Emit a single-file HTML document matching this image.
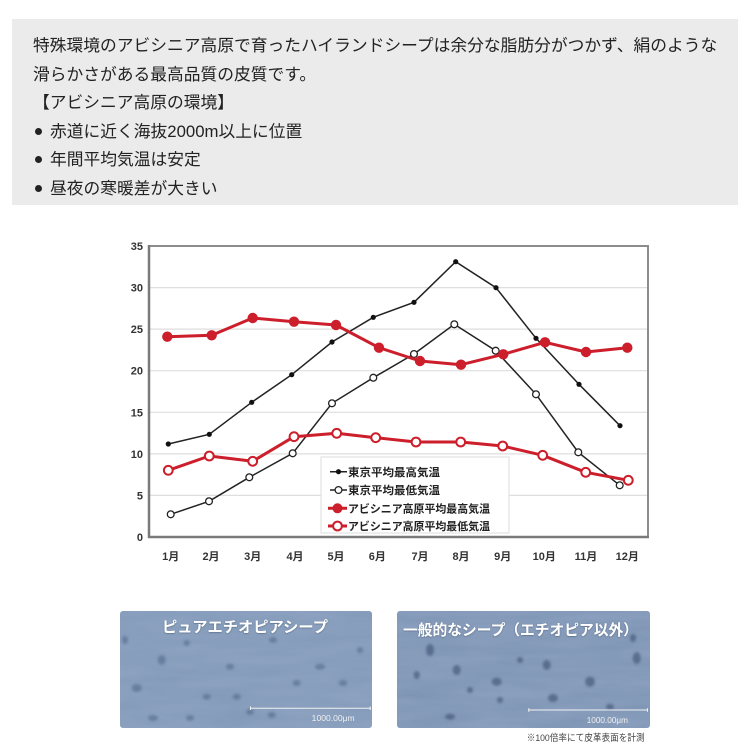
<!DOCTYPE html>
<html>
<head>
<meta charset="utf-8">
<style>
  html,body{margin:0;padding:0;background:#fff;}
  body{width:750px;height:750px;position:relative;overflow:hidden;
       font-family:"Liberation Sans","Noto Sans CJK JP",sans-serif;}
  .box{position:absolute;left:12px;top:19px;width:726px;height:186px;background:#ebebeb;}
  .txt{position:absolute;left:33px;top:32px;font-size:16.75px;line-height:28.5px;color:#222;white-space:nowrap;}
  .txt div{height:28.5px;}
  .b{display:inline-block;width:7px;height:7px;border-radius:50%;background:#222;margin:0 8px 2px 2px;vertical-align:middle;}
  svg{position:absolute;left:0;top:0;}
</style>
</head>
<body>
<div class="box"></div>
<div class="txt">
  <div>特殊環境のアビシニア高原で育ったハイランドシープは余分な脂肪分がつかず、絹のような</div>
  <div>滑らかさがある最高品質の皮質です。</div>
  <div>【アビシニア高原の環境】</div>
  <div><span class="b"></span>赤道に近く海抜2000m以上に位置</div>
  <div><span class="b"></span>年間平均気温は安定</div>
  <div><span class="b"></span>昼夜の寒暖差が大きい</div>
</div>

<svg width="750" height="750" viewBox="0 0 750 750" xmlns="http://www.w3.org/2000/svg">
  <defs>
    <filter id="tex" x="0" y="0" width="100%" height="100%">
      <feTurbulence type="fractalNoise" baseFrequency="0.015 0.09" numOctaves="3" seed="4" result="n"/>
      <feColorMatrix in="n" type="matrix" values="0 0 0 0 0.33  0 0 0 0 0.43  0 0 0 0 0.60  0 0 0 0.5 0" result="c"/>
      <feComposite in="c" in2="SourceGraphic" operator="in"/>
    </filter>
    <filter id="bl"><feGaussianBlur stdDeviation="1.3"/></filter>
    <filter id="sh"><feDropShadow dx="0" dy="0.5" stdDeviation="0.8" flood-color="#2a3a55" flood-opacity="0.6"/></filter>
    <clipPath id="c1"><rect x="120" y="611" width="252" height="117" rx="3"/></clipPath>
    <clipPath id="c2"><rect x="397" y="611" width="253" height="117" rx="3"/></clipPath>
  </defs>

  <!-- chart grid -->
  <g stroke="#dedede" stroke-width="1.2">
    <line x1="150" y1="287.6" x2="647" y2="287.6"/>
    <line x1="150" y1="329.1" x2="647" y2="329.1"/>
    <line x1="150" y1="370.7" x2="647" y2="370.7"/>
    <line x1="150" y1="412.3" x2="647" y2="412.3"/>
    <line x1="150" y1="453.9" x2="647" y2="453.9"/>
    <line x1="150" y1="495.4" x2="647" y2="495.4"/>
  </g>
  <rect x="149" y="246" width="499" height="291" fill="none" stroke="#8c8c8c" stroke-width="2"/>
  <line x1="149" y1="245" x2="149" y2="538" stroke="#7a7a7a" stroke-width="2.5"/>
  <line x1="148" y1="537" x2="649" y2="537" stroke="#7a7a7a" stroke-width="2.5"/>

  <!-- y labels -->
  <g font-family="Liberation Sans, sans-serif" font-size="11" font-weight="bold" fill="#333" text-anchor="end">
    <text x="143" y="250">35</text>
    <text x="143" y="291.6">30</text>
    <text x="143" y="333.1">25</text>
    <text x="143" y="374.7">20</text>
    <text x="143" y="416.3">15</text>
    <text x="143" y="457.9">10</text>
    <text x="143" y="499.4">5</text>
    <text x="143" y="541">0</text>
  </g>
  <!-- x labels -->
  <g font-family="Liberation Sans, Noto Sans CJK JP, sans-serif" font-size="11" font-weight="bold" fill="#333" text-anchor="middle">
    <text x="170.7" y="560">1月</text>
    <text x="211" y="560">2月</text>
    <text x="252.7" y="560">3月</text>
    <text x="295" y="560">4月</text>
    <text x="336" y="560">5月</text>
    <text x="377.3" y="560">6月</text>
    <text x="420" y="560">7月</text>
    <text x="461" y="560">8月</text>
    <text x="502.7" y="560">9月</text>
    <text x="544.3" y="560">10月</text>
    <text x="586" y="560">11月</text>
    <text x="627.3" y="560">12月</text>
  </g>

  <!-- Tokyo max -->
  <polyline fill="none" stroke="#222" stroke-width="1.5" points="168.3,444 209.3,434.3 251.7,402.3 291.7,374.7 332,342 373.3,317.3 414,302.3 455.7,261.7 496,287.7 536,338.3 579,384.3 620,425.7"/>
  <g fill="#111">
    <circle cx="168.3" cy="444" r="2.6"/><circle cx="209.3" cy="434.3" r="2.6"/><circle cx="251.7" cy="402.3" r="2.6"/>
    <circle cx="291.7" cy="374.7" r="2.6"/><circle cx="332" cy="342" r="2.6"/><circle cx="373.3" cy="317.3" r="2.6"/>
    <circle cx="414" cy="302.3" r="2.6"/><circle cx="455.7" cy="261.7" r="2.6"/><circle cx="496" cy="287.7" r="2.6"/>
    <circle cx="536" cy="338.3" r="2.6"/><circle cx="579" cy="384.3" r="2.6"/><circle cx="620" cy="425.7" r="2.6"/>
  </g>
  <!-- Tokyo min -->
  <polyline fill="none" stroke="#222" stroke-width="1.5" points="170.7,514.3 209,501.3 249.3,477.3 292.7,453.3 332,403.3 373.3,377.7 414,354 454.3,324.3 495.7,350.7 536,394.3 578.3,452.3 619.7,485.3"/>
  <g fill="#fff" stroke="#222" stroke-width="1.3">
    <circle cx="170.7" cy="514.3" r="3.4"/><circle cx="209" cy="501.3" r="3.4"/><circle cx="249.3" cy="477.3" r="3.4"/>
    <circle cx="292.7" cy="453.3" r="3.4"/><circle cx="332" cy="403.3" r="3.4"/><circle cx="373.3" cy="377.7" r="3.4"/>
    <circle cx="414" cy="354" r="3.4"/><circle cx="454.3" cy="324.3" r="3.4"/><circle cx="495.7" cy="350.7" r="3.4"/>
    <circle cx="536" cy="394.3" r="3.4"/><circle cx="578.3" cy="452.3" r="3.4"/><circle cx="619.7" cy="485.3" r="3.4"/>
  </g>

  <!-- Abyssinia max -->
  <polyline fill="none" stroke="#cc1e2b" stroke-width="3" stroke-linejoin="round" points="167.3,336.7 211.7,335.3 252.7,318 294,321.7 336,325 379,347.7 420,361 461,364.7 503.3,354.3 545,342.3 586,352 627.3,347.7"/>
  <g fill="#cc1e2b">
    <circle cx="167.3" cy="336.7" r="5.2"/><circle cx="211.7" cy="335.3" r="5.2"/><circle cx="252.7" cy="318" r="5.2"/>
    <circle cx="294" cy="321.7" r="5.2"/><circle cx="336" cy="325" r="5.2"/><circle cx="379" cy="347.7" r="5.2"/>
    <circle cx="420" cy="361" r="5.2"/><circle cx="461" cy="364.7" r="5.2"/><circle cx="503.3" cy="354.3" r="5.2"/>
    <circle cx="545" cy="342.3" r="5.2"/><circle cx="586" cy="352" r="5.2"/><circle cx="627.3" cy="347.7" r="5.2"/>
  </g>
  <!-- Abyssinia min -->
  <polyline fill="none" stroke="#cc1e2b" stroke-width="3" stroke-linejoin="round" points="168.3,470.3 209.3,456 252.7,461.3 294,436.7 336.7,433.3 375.7,437.7 416,442 460.7,442 502.7,446 542.7,455.3 585.7,472.3 628.3,480.3"/>
  <g fill="#fff" stroke="#cc1e2b" stroke-width="2">
    <circle cx="168.3" cy="470.3" r="4.4"/><circle cx="209.3" cy="456" r="4.4"/><circle cx="252.7" cy="461.3" r="4.4"/>
    <circle cx="294" cy="436.7" r="4.4"/><circle cx="336.7" cy="433.3" r="4.4"/><circle cx="375.7" cy="437.7" r="4.4"/>
    <circle cx="416" cy="442" r="4.4"/><circle cx="460.7" cy="442" r="4.4"/><circle cx="502.7" cy="446" r="4.4"/>
    <circle cx="542.7" cy="455.3" r="4.4"/><circle cx="585.7" cy="472.3" r="4.4"/><circle cx="628.3" cy="480.3" r="4.4"/>
  </g>

  <!-- legend -->
  <rect x="321" y="457" width="188" height="76" fill="#fff" stroke="#dcdcdc" stroke-width="1"/>
  <line x1="330" y1="471.7" x2="347" y2="471.7" stroke="#222" stroke-width="1.5"/>
  <circle cx="338.5" cy="471.7" r="2.6" fill="#111"/>
  <line x1="330" y1="490" x2="347" y2="490" stroke="#222" stroke-width="1.5"/>
  <circle cx="338.5" cy="490" r="3.4" fill="#fff" stroke="#222" stroke-width="1.3"/>
  <line x1="328" y1="508.3" x2="347" y2="508.3" stroke="#cc1e2b" stroke-width="3"/>
  <circle cx="337.5" cy="508.3" r="5" fill="#cc1e2b"/>
  <line x1="328" y1="526" x2="347" y2="526" stroke="#cc1e2b" stroke-width="3"/>
  <circle cx="337.5" cy="526" r="4.4" fill="#fff" stroke="#cc1e2b" stroke-width="2"/>
  <g font-family="Liberation Sans, Noto Sans CJK JP, sans-serif" font-size="11" font-weight="bold" fill="#222">
    <text x="348" y="475.8" textLength="92" lengthAdjust="spacingAndGlyphs">東京平均最高気温</text>
    <text x="348" y="494.1" textLength="92" lengthAdjust="spacingAndGlyphs">東京平均最低気温</text>
    <text x="348" y="512.4" textLength="142" lengthAdjust="spacingAndGlyphs">アビシニア高原平均最高気温</text>
    <text x="348" y="530.1" textLength="142" lengthAdjust="spacingAndGlyphs">アビシニア高原平均最低気温</text>
  </g>

  <!-- left photo -->
  <g clip-path="url(#c1)">
    <rect x="120" y="611" width="252" height="117" fill="#8299b8"/>
    <rect x="120" y="611" width="252" height="117" fill="#8299b8" filter="url(#tex)"/>
    <g fill="#4b6184" opacity="0.5" filter="url(#bl)">
      <ellipse cx="161.7" cy="660" rx="4" ry="5"/><ellipse cx="136.7" cy="688" rx="5" ry="4"/>
      <ellipse cx="206.7" cy="696.7" rx="4" ry="3"/><ellipse cx="236.7" cy="696.7" rx="4" ry="3"/>
      <ellipse cx="230" cy="666.7" rx="4" ry="3"/><ellipse cx="273" cy="640" rx="4" ry="3"/>
      <ellipse cx="320" cy="666.7" rx="5" ry="3"/><ellipse cx="296.7" cy="683" rx="4" ry="3"/>
      <ellipse cx="153" cy="718" rx="5" ry="3"/><ellipse cx="190" cy="718" rx="4" ry="3"/>
      <ellipse cx="271.7" cy="715" rx="4" ry="3"/><ellipse cx="343" cy="683" rx="4" ry="3"/>
      <ellipse cx="186.7" cy="643" rx="3" ry="3"/><ellipse cx="250" cy="712" rx="4" ry="3"/>
      <ellipse cx="125" cy="640" rx="3" ry="4"/><ellipse cx="360" cy="650" rx="3" ry="3"/>
    </g>
  </g>
  <text x="162" y="632" font-family="Liberation Sans, Noto Sans CJK JP, sans-serif" font-size="15" font-weight="bold" fill="#fff" filter="url(#sh)" textLength="166" lengthAdjust="spacingAndGlyphs">ピュアエチオピアシープ</text>
  <line x1="250" y1="708.3" x2="370.7" y2="708.3" stroke="#f2f2f2" stroke-width="1"/>
  <line x1="250.5" y1="706.5" x2="250.5" y2="710" stroke="#f2f2f2" stroke-width="1"/>
  <line x1="370.2" y1="706.5" x2="370.2" y2="710" stroke="#f2f2f2" stroke-width="1"/>
  <text x="311.7" y="721" font-family="Liberation Sans, sans-serif" font-size="8.5" fill="#f0f0f0" textLength="43" lengthAdjust="spacingAndGlyphs">1000.00μm</text>

  <!-- right photo -->
  <g clip-path="url(#c2)">
    <rect x="397" y="611" width="253" height="117" fill="#7e94b4"/>
    <rect x="397" y="611" width="253" height="117" fill="#7e94b4" filter="url(#tex)"/>
    <g fill="#3c4f72" opacity="0.6" filter="url(#bl)">
      <ellipse cx="430" cy="650" rx="4" ry="6"/><ellipse cx="456.7" cy="670" rx="4" ry="5"/>
      <ellipse cx="496.7" cy="681.7" rx="5" ry="4"/><ellipse cx="546.7" cy="665" rx="4" ry="5"/>
      <ellipse cx="590" cy="681.7" rx="5" ry="5"/><ellipse cx="636.7" cy="658" rx="4" ry="6"/>
      <ellipse cx="500" cy="700" rx="3" ry="3"/><ellipse cx="553" cy="698" rx="5" ry="4"/>
      <ellipse cx="450" cy="716.7" rx="5" ry="3"/><ellipse cx="633" cy="638" rx="3" ry="4"/>
      <ellipse cx="416.7" cy="675" rx="3" ry="4"/><ellipse cx="610" cy="706.7" rx="4" ry="3"/>
      <ellipse cx="470" cy="690" rx="3" ry="3"/><ellipse cx="520" cy="660" rx="3" ry="3"/>
    </g>
  </g>
  <text x="403" y="635" font-family="Liberation Sans, Noto Sans CJK JP, sans-serif" font-size="15" font-weight="bold" fill="#fff" filter="url(#sh)" textLength="235" lengthAdjust="spacingAndGlyphs">一般的なシープ（エチオピア以外）</text>
  <line x1="528.3" y1="710" x2="648" y2="710" stroke="#f2f2f2" stroke-width="1"/>
  <line x1="528.8" y1="708.2" x2="528.8" y2="711.8" stroke="#f2f2f2" stroke-width="1"/>
  <line x1="647.5" y1="708.2" x2="647.5" y2="711.8" stroke="#f2f2f2" stroke-width="1"/>
  <text x="586.7" y="723" font-family="Liberation Sans, sans-serif" font-size="8.5" fill="#f0f0f0" textLength="41.3" lengthAdjust="spacingAndGlyphs">1000.00μm</text>

  <text x="526.7" y="741" font-family="Liberation Sans, Noto Sans CJK JP, sans-serif" font-size="9.5" fill="#444" textLength="118" lengthAdjust="spacingAndGlyphs">※100倍率にて皮革表面を計測</text>
</svg>
</body>
</html>
